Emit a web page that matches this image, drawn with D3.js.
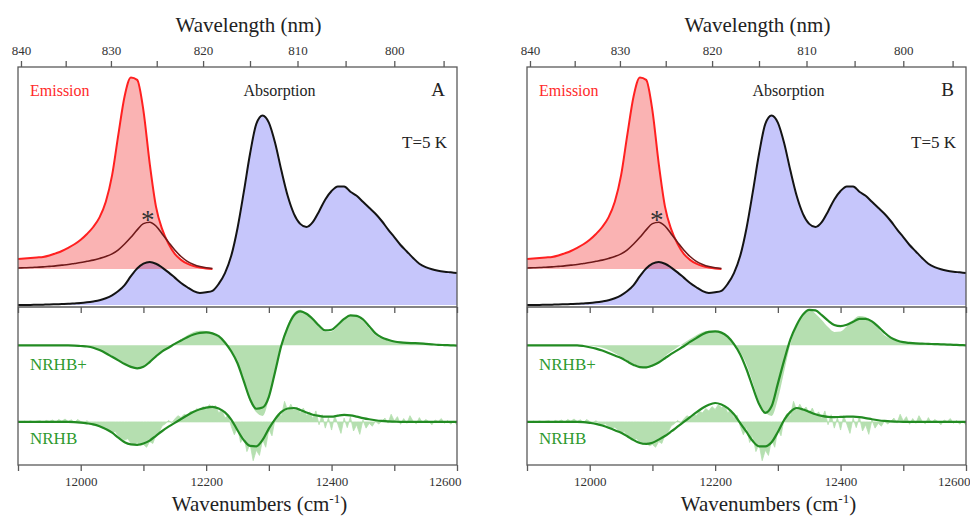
<!DOCTYPE html>
<html>
<head>
<meta charset="utf-8">
<script src="https://cdn.jsdelivr.net/npm/d3@7"></script>
<style>
  body { margin: 0; background: #fff; }
  svg { display: block; }
  text { font-family: "Liberation Serif", "Tinos", "DejaVu Serif", serif; }
</style>
</head>
<body>
<svg id="chart" width="970" height="516"></svg>
<script>
// wavenumber grid: 11900 .. 12600 cm-1, every 10 (noisy NRHB data every 5)
var wnStart = 11900, wnStep = 10, noiseStep = 5;

var wnTicks = [11900, 12000, 12100, 12200, 12300, 12400, 12500, 12600];
var nmTicks = [840, 835, 830, 825, 820, 815, 810, 805, 800, 795];

var panelNames = ["A", "B"];

// absorption (upper panel, arb. units)
var absorption = [
    0, 0, 0.05, 0.1, 0.15, 0.2, 0.3, 0.4, 0.5, 0.65,
    0.8, 1.1, 1.5, 2.0, 2.8, 4.0, 5.8, 8.3, 12, 15.2,
    17.2, 17.9, 17.2, 15.6, 13.6, 11.4, 9.2, 7.4, 5.8, 5.0,
    5.3, 5.9, 8.8, 13.3, 20.5, 32, 47, 63, 75.5, 79,
    76, 67.5, 56, 45.5, 38, 33.8, 32.5, 34.5, 39, 44,
    47.5, 49.4, 49.4, 47.2, 45.5, 43, 40.5, 38, 35, 31.5,
    28.3, 25, 22.3, 19.6, 17.2, 15.8, 14.9, 14.3, 13.9, 13.6,
    13.3
];

// emission and the starred band, 11900 .. 12210
var emission = [
    4.2, 4.4, 4.6, 4.8, 5.0, 5.6, 6.5, 7.5, 8.8, 10.3,
    12.2, 14.6, 17.5, 21.5, 28, 39, 56, 72, 79.8, 78.8,
    66, 44, 26, 16.5, 10.5, 6.3, 3.8, 2.2, 1.2, 0.6,
    0.2, 0
];
var starBand = [
    0.4, 0.5, 0.6, 0.75, 0.9, 1.1, 1.3, 1.6, 1.9, 2.3,
    2.7, 3.2, 3.7, 4.4, 5.2, 6.3, 8.0, 10.4, 13.2, 16.3,
    18.9, 19.5, 17.9, 14.6, 11.2, 7.9, 5.2, 3.2, 1.9, 1.0,
    0.5, 0.2
];
var emissionOffset = 15;

// NRHB+ difference spectrum (data) and fits for A / B
var nrhbPlusData = [
    0, 0, 0, 0, 0, 0, 0, 0, 0, 0,
    -0.2, -0.5, -1.0, -2.0, -3.3, -4.8, -6.3, -7.8, -9.0, -9.6,
    -9.0, -7.0, -4.6, -2.6, -0.8, 1.0, 2.6, 4.2, 5.6, 6.1,
    6.0, 5.2, 3.6, 1.0, -2.8, -8.0, -15.5, -23.5, -28.0, -29.5,
    -22.5, -11.0, 0.5, 8.5, 13.5, 14.8, 13.2, 10.6, 7.6, 5.6,
    5.8, 8.0, 10.6, 12.2, 11.8, 10.0, 7.0, 4.2, 2.8, 2.0,
    1.5, 1.2, 1.0, 0.9, 0.8, 0.6, 0.4, 0.2, 0.1, 0,
    -0.1
];
var nrhbPlusFitA = [
    0, 0, 0, 0, 0, 0, 0, 0, 0, -0.1,
    -0.3, -0.5, -1.0, -2.0, -3.3, -4.8, -6.3, -7.8, -9.0, -9.6,
    -9.0, -7.0, -4.6, -2.5, -1.0, 0.6, 2.0, 3.4, 4.5, 5.2,
    5.4, 5.0, 3.8, 1.2, -2.5, -7.5, -15, -22.5, -26.5, -26,
    -21.5, -11, 0, 7.5, 12.5, 14.2, 13.2, 11, 8.2, 6.2,
    6.5, 8.6, 11, 12.5, 12.3, 10.8, 8.0, 5.0, 3.3, 2.3,
    1.6, 1.2, 1.0, 0.9, 0.8, 0.6, 0.4, 0.2, 0.1, 0,
    -0.1
];
var nrhbPlusFitB = [
    0, 0, 0, 0, 0, 0, 0, 0, 0, -0.3,
    -0.8, -1.4, -2.2, -3.2, -4.3, -5.3, -6.8, -8.2, -9.1, -9.2,
    -8.4, -7.2, -5.4, -3.6, -2.0, -0.4, 1.4, 3.0, 4.6, 5.6,
    5.8, 5.3, 3.6, 0.5, -3.8, -10, -17.5, -24.5, -28.2, -25.5,
    -16, -6.3, 2.5, 8.5, 12.8, 14.8, 14.6, 12.6, 10.3, 8.5,
    8.0, 8.6, 9.8, 11.0, 11.0, 10.0, 7.8, 5.3, 3.2, 2.0,
    1.3, 1.0, 0.8, 0.7, 0.6, 0.5, 0.4, 0.3, 0.2, 0.1,
    0
];

// NRHB difference spectrum (noisy data, step 5) and fits
var nrhbData = [
    0.2, -0.2, 0.3, 0, 0.4, -0.1, 0.3, 0.5, -0.2, 0.6,
    0.2, 0.8, -0.1, 1.0, 0.3, 1.2, 0.1, 0.9, -0.3, 1.0,
    0.2, -0.4, 0.5, -0.6, -1.4, -0.8, -2.0, -2.6, -2.2, -3.4,
    -4.6, -4.0, -5.8, -6.8, -7.6, -7.0, -8.8, -9.4, -8.6, -10.0,
    -9.4, -10.6, -8.2, -9.0, -5.4, -4.2, -1.6, -0.8, 0.6, -0.4,
    1.2, 2.6, 1.8, 3.2, 2.6, 4.4, 3.8, 5.6, 4.6, 6.4,
    5.2, 7.2, 6.0, 6.8, 3.8, 5.0, 1.6, 2.8, -1.8, -5.4,
    -2.2, -8.6, -6.0, -12.4, -9.2, -16.2, -11.8, -14.0, -7.4, -10.6,
    -3.2, -5.8, 1.4, 3.6, 2.4, 8.6, 4.8, 7.4, 5.0, 6.2,
    3.6, 5.8, 2.6, 4.2, 1.4, 4.6, -1.2, 3.0, -2.6, 1.8,
    -3.4, 2.6, -1.0, -4.8, 1.6, -2.4, 2.2, -3.8, -1.2, -5.2,
    0.8, -2.6, -0.6, -1.8, 0.4, -0.9, 0.2, 1.6, -0.5, 3.2,
    0.4, 2.2, -1.0, 1.4, -0.6, 2.6, 0.3, -0.8, 1.8, -0.4,
    1.0, 0.2, -1.2, 0.8, 0.2, 1.4, -0.6, 0.6, -1.0, 0.4,
    -1.4
];
var nrhbFitA = [
    0, 0, 0, 0, 0, 0, 0, 0, 0, -0.1,
    -0.3, -0.6, -1.0, -1.8, -3.0, -4.5, -6.6, -8.5, -9.4, -9.6,
    -9.0, -7.8, -5.8, -3.8, -2.0, -0.4, 1.2, 2.8, 4.2, 5.3,
    6.0, 6.3, 5.6, 4.0, 1.0, -3.5, -7.6, -10.0, -10.2, -7.5,
    -2.8, 1.2, 4.2, 5.6, 5.8, 5.0, 3.9, 3.0, 2.5, 2.2,
    2.2, 2.6, 2.9, 2.7, 2.2, 1.6, 1.1, 0.7, 0.4, 0.2,
    0.1, 0, 0, 0, 0, 0, 0, 0, 0, 0,
    0
];
var nrhbFitB = [
    0, 0, 0, 0, 0, 0, 0, 0, 0, -0.1,
    -0.4, -0.8, -1.5, -2.4, -3.5, -4.5, -6.0, -7.6, -8.8, -9.2,
    -8.7, -7.4, -5.9, -4.0, -2.0, 0, 2.0, 4.0, 5.8, 7.2,
    7.9, 7.3, 5.8, 3.2, -0.5, -4.2, -8.0, -10.2, -10.2, -8.5,
    -4.2, 0.8, 4.2, 5.8, 5.2, 4.2, 3.2, 2.5, 2.1, 2.0,
    2.1, 2.2, 2.2, 2.0, 1.6, 1.1, 0.7, 0.4, 0.2, 0.1,
    0, 0, 0, 0, 0, 0, 0, 0, 0, 0,
    0
];
var nrhbOffset = -32;

var fits = {
    A: {plus: nrhbPlusFitA, nrhb: nrhbFitA},
    B: {plus: nrhbPlusFitB, nrhb: nrhbFitB}
};

var svg = d3.select("#chart");

var panel = {width: 439, top: 67, mid: 307, bottom: 465},
    panelLeft = {A: 18, B: 527};

var serif = '"Liberation Serif", "Tinos", "DejaVu Serif", serif';

var colors = {
    frame: "#5a5a5a",
    absFill: "#c6c6fb",
    absLine: "#141414",
    emFill: "#f01414",
    emLine: "#ff2020",
    star: "#6e1a1a",
    green: "#228b22",
    greenFill: "#b5dfb0",
    greenText: "#2e9a2e"
};

function toPoints(values, start, step, offset) {
    return values.map(function(v, i) {
        return {wn: start + i * step, v: v + (offset || 0)};
    });
}

panelNames.forEach(function(name) {

    var g = svg.append("g")
        .attr("transform", `translate(${panelLeft[name]},0)`)
        .attr("font-family", serif);

    var x = d3.scaleLinear()
        .domain([11900, 12600])
        .range([0, panel.width]);

    var yUp = d3.scaleLinear()
        .domain([0, 100])
        .range([305, 65]);

    var yLow = d3.scaleLinear()
        .domain([-50, 16])
        .range([panel.bottom, panel.mid]);

    var clipId = "clip" + name;
    g.append("clipPath").attr("id", clipId)
        .append("rect")
        .attr("x", 0).attr("y", panel.top)
        .attr("width", panel.width).attr("height", panel.bottom - panel.top);

    var plot = g.append("g").attr("clip-path", `url(#${clipId})`);

    // ---- upper panel
    var absPts = toPoints(absorption, wnStart, wnStep);
    var emPts = toPoints(emission, wnStart, wnStep, emissionOffset);
    var starPts = toPoints(starBand, wnStart, wnStep, emissionOffset);

    var upArea = function(base) {
        return d3.area()
            .curve(d3.curveMonotoneX)
            .x(d => x(d.wn))
            .y0(yUp(base))
            .y1(d => yUp(d.v));
    };
    var upLine = d3.line()
        .curve(d3.curveMonotoneX)
        .x(d => x(d.wn))
        .y(d => yUp(d.v));

    plot.append("path")
        .datum(absPts)
        .attr("fill", colors.absFill)
        .attr("d", upArea(0));

    plot.append("path")
        .datum(emPts)
        .attr("fill", colors.emFill)
        .attr("fill-opacity", 0.32)
        .attr("d", upArea(emissionOffset));

    plot.append("path")
        .datum(absPts)
        .attr("fill", "none")
        .attr("stroke", colors.absLine)
        .attr("stroke-width", 2)
        .attr("d", upLine);

    plot.append("path")
        .datum(emPts)
        .attr("fill", "none")
        .attr("stroke", colors.emLine)
        .attr("stroke-width", 2)
        .attr("d", upLine);

    plot.append("path")
        .datum(starPts)
        .attr("fill", "none")
        .attr("stroke", colors.star)
        .attr("stroke-width", 1.6)
        .attr("d", upLine);

    // ---- lower panel
    var lowArea = function(base, curve) {
        return d3.area()
            .curve(curve)
            .x(d => x(d.wn))
            .y0(yLow(base))
            .y1(d => yLow(d.v));
    };
    var lowLine = d3.line()
        .curve(d3.curveMonotoneX)
        .x(d => x(d.wn))
        .y(d => yLow(d.v));

    plot.append("path")
        .datum(toPoints(nrhbPlusData, wnStart, wnStep))
        .attr("fill", colors.greenFill)
        .attr("d", lowArea(0, d3.curveMonotoneX));

    plot.append("path")
        .datum(toPoints(nrhbData, wnStart, noiseStep, nrhbOffset))
        .attr("fill", colors.greenFill)
        .attr("stroke", colors.greenFill)
        .attr("stroke-width", 0.8)
        .attr("d", lowArea(nrhbOffset, d3.curveLinear));

    plot.append("path")
        .datum(toPoints(fits[name].plus, wnStart, wnStep))
        .attr("fill", "none")
        .attr("stroke", colors.green)
        .attr("stroke-width", 2.2)
        .attr("d", lowLine);

    plot.append("path")
        .datum(toPoints(fits[name].nrhb, wnStart, wnStep, nrhbOffset))
        .attr("fill", "none")
        .attr("stroke", colors.green)
        .attr("stroke-width", 2.2)
        .attr("d", lowLine);

    // ---- frame
    g.append("rect")
        .attr("x", 0).attr("y", panel.top)
        .attr("width", panel.width).attr("height", panel.bottom - panel.top)
        .attr("fill", "none")
        .attr("stroke", colors.frame)
        .attr("stroke-width", 1.3);

    g.append("line")
        .attr("x1", 0).attr("x2", panel.width)
        .attr("y1", panel.mid).attr("y2", panel.mid)
        .attr("stroke", colors.frame)
        .attr("stroke-width", 1.3);

    // ---- axes
    g.append("g")
        .attr("class", "axis")
        .attr("transform", `translate(0,${panel.top})`)
        .call(d3.axisTop(x)
            .tickValues(nmTicks.map(n => 1e7 / n))
            .tickSize(6)
            .tickPadding(6)
            .tickFormat(function(v) {
                var nm = Math.round(1e7 / v);
                return nm % 10 === 0 ? nm : "";
            }));

    g.append("g")
        .attr("class", "axis")
        .attr("transform", `translate(0,${panel.mid})`)
        .call(d3.axisBottom(x).tickValues(wnTicks).tickSize(6).tickFormat(""));

    var bottomAxis = g.append("g")
        .attr("class", "axis")
        .attr("transform", `translate(0,${panel.bottom})`)
        .call(d3.axisBottom(x)
            .tickValues(wnTicks)
            .tickSize(6)
            .tickPadding(6)
            .tickFormat(d => d % 200 === 0 ? d : ""));

    // last label sits flush with the right edge of the frame
    bottomAxis.selectAll(".tick text")
        .filter(d => d === 12600)
        .attr("text-anchor", "end")
        .attr("x", 4);

    g.selectAll(".axis .domain").remove();
    g.selectAll(".axis .tick line")
        .attr("stroke", colors.frame)
        .attr("stroke-width", 1.3);
    g.selectAll(".axis .tick text")
        .attr("font-family", serif)
        .attr("font-size", 13)
        .attr("fill", "#333");

    // ---- titles
    g.append("text")
        .attr("x", panel.width / 2 + 11)
        .attr("y", 32)
        .attr("text-anchor", "middle")
        .attr("font-size", 21)
        .attr("fill", "#222")
        .text("Wavelength (nm)");

    var xt = g.append("text")
        .attr("x", panel.width / 2 + 22)
        .attr("y", 511)
        .attr("text-anchor", "middle")
        .attr("font-size", 21)
        .attr("fill", "#222");
    xt.append("tspan").text("Wavenumbers (cm");
    xt.append("tspan").attr("font-size", 13).attr("dy", -8).text("-1");
    xt.append("tspan").attr("dy", 8).text(")");

    // ---- labels
    g.append("text")
        .attr("x", 12).attr("y", 96)
        .attr("font-size", 16)
        .attr("fill", "#ff2a2a")
        .text("Emission");

    g.append("text")
        .attr("x", x(12317)).attr("y", 96)
        .attr("text-anchor", "middle")
        .attr("font-size", 16)
        .attr("fill", "#222")
        .text("Absorption");

    g.append("text")
        .attr("x", panel.width - 12).attr("y", 96)
        .attr("text-anchor", "end")
        .attr("font-size", 19)
        .attr("fill", "#222")
        .text(name);

    g.append("text")
        .attr("x", panel.width - 10).attr("y", 148)
        .attr("text-anchor", "end")
        .attr("font-size", 17)
        .attr("fill", "#222")
        .text("T=5 K");

    g.append("text")
        .attr("x", x(12107)).attr("y", 229)
        .attr("text-anchor", "middle")
        .attr("font-size", 27)
        .attr("fill", "#333")
        .text("*");

    g.append("text")
        .attr("x", 12).attr("y", 370)
        .attr("font-size", 17)
        .attr("fill", colors.greenText)
        .text("NRHB+");

    g.append("text")
        .attr("x", 12).attr("y", 444)
        .attr("font-size", 17)
        .attr("fill", colors.greenText)
        .text("NRHB");
});
</script>
</body>
</html>
